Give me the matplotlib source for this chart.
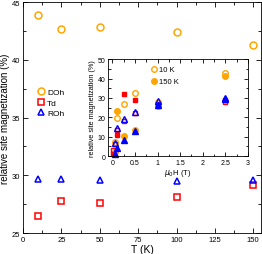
import matplotlib
matplotlib.use("Agg")
import matplotlib.pyplot as plt
from matplotlib.ticker import MultipleLocator

plt.rcParams['font.family'] = ['Liberation Sans', 'DejaVu Sans']

# main panel: temperature dependence
T = [10, 25, 50, 100, 150]
doh_T = [43.9, 42.7, 42.85, 42.4, 41.3]
td_T = [26.45, 27.75, 27.6, 28.1, 29.2]
roh_T = [29.7, 29.7, 29.6, 29.55, 29.6]

# inset: field dependence at 10 K (open) and 150 K (filled)
H = [0.05, 0.1, 0.25, 0.5, 1, 2.5]
doh_10 = [7.5, 19.6, 26.7, 32.3, 28.0, 43.0]
doh_150 = [2.0, 23.5, 10.3, 13.2, 26.0, 41.5]
H_td10 = [0.02, 0.05, 0.1, 0.25, 0.5, 1, 2.5]
td_10 = [2.9, 6.0, 13.5, 18.3, 22.0, 27.0, 27.7]
H_td150 = [0.02, 0.1, 0.25, 0.5, 1, 2.5]
td_150 = [1.0, 10.7, 32.0, 29.1, 26.5, 29.0]
roh_10 = [7.0, 14.3, 19.0, 22.8, 28.6, 30.2]
roh_150 = [1.0, 4.4, 8.4, 12.8, 26.5, 29.5]

orange = '#ffa500'
red = '#ff0000'
blue = '#0000ff'

fig = plt.figure(figsize=(2.62, 2.55), dpi=100)
ax = fig.add_axes([0.088, 0.082, 0.908, 0.906])

ax.plot(T, doh_T, 'o', mfc='none', mec=orange, mew=1.1, ms=5, ls='none', label='DOh')
ax.plot(T, td_T, 's', mfc='none', mec=red, mew=1.1, ms=4.5, ls='none', label='Td')
ax.plot(T, roh_T, '^', mfc='none', mec=blue, mew=1.1, ms=5, ls='none', label='ROh')

ax.set_xlim(0, 155)
ax.set_ylim(25, 45)
ax.xaxis.set_major_locator(MultipleLocator(25))
ax.xaxis.set_minor_locator(MultipleLocator(12.5))
ax.yaxis.set_major_locator(MultipleLocator(5))
ax.yaxis.set_minor_locator(MultipleLocator(2.5))
ax.tick_params(which='both', direction='in', top=True, right=True, labelsize=5.5, pad=2, width=0.6)
ax.tick_params(which='major', length=3.5)
ax.tick_params(which='minor', length=2)
for s in ax.spines.values():
    s.set_linewidth(0.6)
ax.set_xlabel('T (K)', fontsize=7.5, labelpad=1)
ax.set_ylabel('relative site magnetization (%)', fontsize=7, labelpad=1)
ax.legend(loc='upper left', bbox_to_anchor=(0.045, 0.64), frameon=False, fontsize=6,
          handletextpad=0.2, labelspacing=0.3, borderaxespad=0, handlelength=1)

# inset
ins = fig.add_axes([0.412, 0.384, 0.534, 0.380])
ins.plot(H, doh_10, 'o', mfc='none', mec=orange, mew=1, ms=4, ls='none', label='10 K', clip_on=False)
ins.plot(H, doh_150, 'o', mfc=orange, mec=orange, mew=1, ms=4, ls='none', label='150 K', clip_on=False)
ins.plot(H_td10, td_10, 's', mfc='none', mec=red, mew=1, ms=3.5, ls='none', clip_on=False)
ins.plot(H_td150, td_150, 's', mfc=red, mec=red, mew=1, ms=3.5, ls='none', clip_on=False)
ins.plot(H, roh_10, '^', mfc='none', mec=blue, mew=1, ms=4, ls='none', clip_on=False)
ins.plot(H, roh_150, '^', mfc=blue, mec=blue, mew=1, ms=4, ls='none', clip_on=False)

ins.set_xlim(-0.1, 3)
ins.set_ylim(0, 50)
ins.xaxis.set_major_locator(MultipleLocator(0.5))
ins.xaxis.set_minor_locator(MultipleLocator(0.25))
ins.yaxis.set_major_locator(MultipleLocator(10))
ins.yaxis.set_minor_locator(MultipleLocator(5))
ins.tick_params(which='both', direction='in', top=True, right=True, labelsize=5, pad=2, width=0.6)
ins.tick_params(which='major', length=3)
ins.tick_params(which='minor', length=1.8)
for s in ins.spines.values():
    s.set_linewidth(0.6)
ins.set_xticks([0, 0.5, 1, 1.5, 2, 2.5, 3])
ins.set_xticklabels(['0', '0.5', '1', '1.5', '2', '2.5', '3'])
ins.set_xlabel(r'$\mu_0$H (T)', fontsize=5.5, labelpad=1)
ins.set_ylabel('relative site magnetization (%)', fontsize=5.2, labelpad=1)
ins.legend(loc='upper left', bbox_to_anchor=(0.28, 0.96), frameon=False, fontsize=5.5,
           handletextpad=0.2, labelspacing=0.6, borderaxespad=0, handlelength=1)

fig.savefig('out.png', dpi=100)
